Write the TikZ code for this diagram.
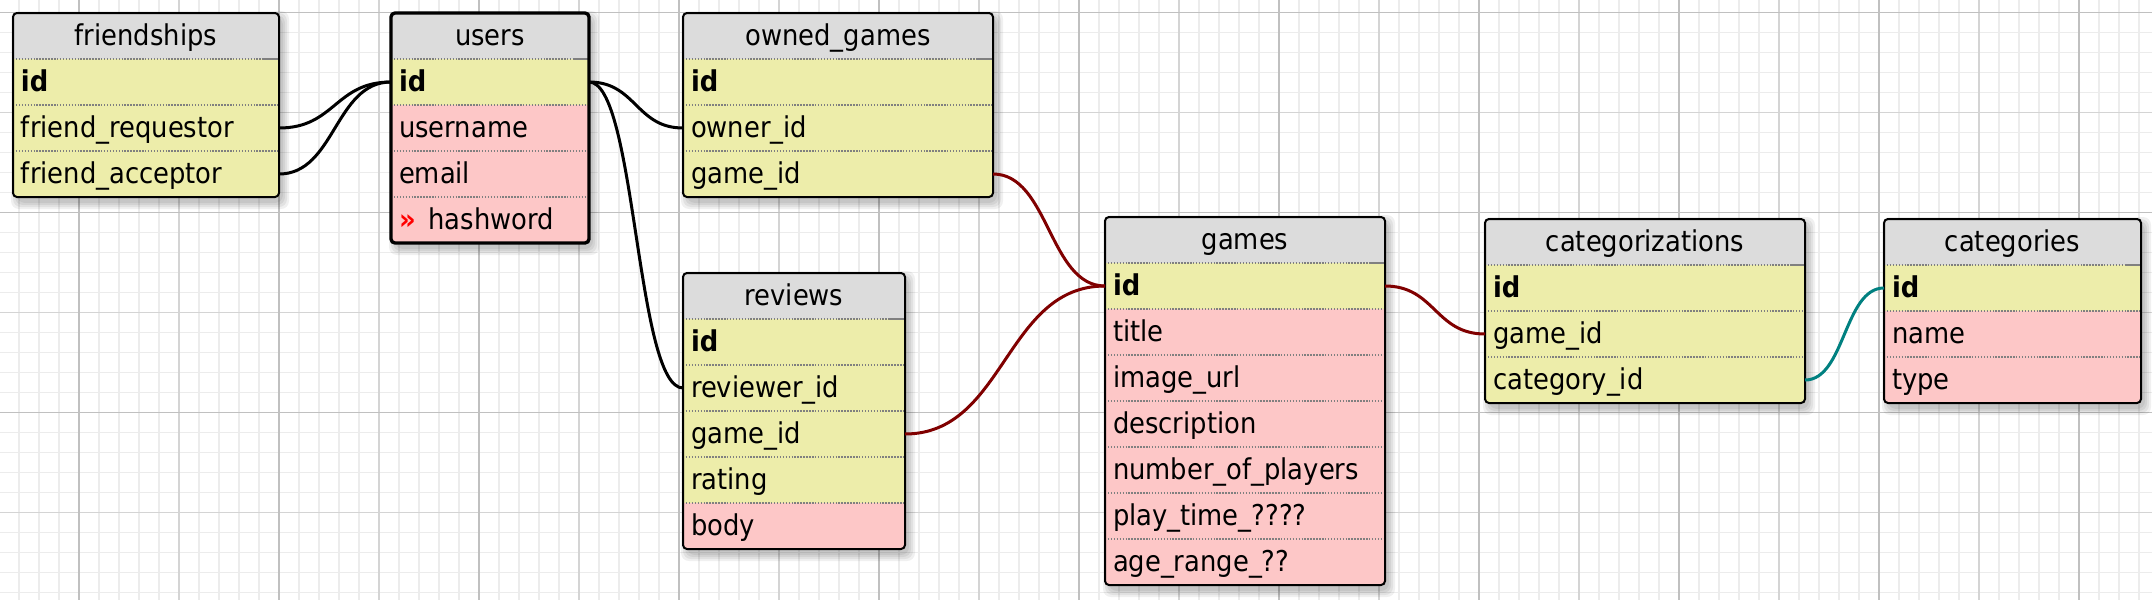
\documentclass[tikz,border=0pt]{standalone}
\usepackage{fontspec}
\setmainfont{DejaVu Sans}[FakeStretch=0.9]

\definecolor{hdrgray}{RGB}{220,220,220}
\definecolor{keyyellow}{RGB}{237,237,170}
\definecolor{fieldpink}{RGB}{253,199,199}
\definecolor{relred}{RGB}{128,0,0}
\definecolor{relteal}{RGB}{0,128,128}
\definecolor{gridminor}{RGB}{236,236,236}
\definecolor{gridmid}{RGB}{212,212,212}
\definecolor{gridmajor}{RGB}{192,192,192}

\pgfdeclarelayer{grid}
\pgfdeclarelayer{shadow}
\pgfsetlayers{grid,shadow,main}

\tikzset{every picture/.style={line width=0.75pt}}
\tikzset{
  tblrow/.style={anchor=north west, rectangle, inner xsep=6pt, inner ysep=0pt, outer sep=0pt,
    minimum height=34.5pt, text width=#1*0.75pt-12pt, text height=14.4pt, text depth=0pt,
    font=\fontsize{21.5}{26}\selectfont},
  tblhead/.style={tblrow=#1, fill=hdrgray, align=center},
  keyfield/.style={tblrow=#1, fill=keyyellow, align=left},
  plainfield/.style={tblrow=#1, fill=fieldpink, align=left},
  tblframe/.style={draw=black, line width=1.5pt, rounded corners=3pt},
  rowsep/.style={draw=gray, line width=1.1pt, dash pattern=on 1.1pt off 1.1pt},
  hdrtick/.style={draw=gray, line width=1.1pt},
  tblshadow/.style={fill=black, opacity=0.06, rounded corners=6pt},
  relation/.style={line width=2.25pt},
}

\begin{document}
\begin{tikzpicture}[x=0.75pt,y=0.75pt,yscale=-1,xscale=1]
\useasboundingbox (0,0) rectangle (2152,600);

%Grid
\begin{pgfonlayer}{grid}
\fill[white] (0,0) rectangle (2152,600);
\begin{scope}[shift={(79,12.7)}]
\draw[gridminor, line width=0.9pt, step=20] (-79,-12.7) grid (2073,587.3);
\draw[gridmid, line width=0.9pt, step=100] (-79,-12.7) grid (2073,587.3);
\draw[gridmajor, line width=1.1pt, step=200] (-79,-12.7) grid (2073,587.3);
\end{scope}
\end{pgfonlayer}

%Shape: Table [friendships]
\node[tblhead=266] (fsHead) at (13,13) {friendships};
\node[keyfield=266] (fsId) at (13,59) {\textbf{id}};
\node[keyfield=266] (fsReq) at (13,105) {friend\_requestor};
\node[keyfield=266] (fsAcc) at (13,151) {friend\_acceptor};

%Shape: Table [users]
\node[tblhead=198] (usHead) at (391,13) {users};
\node[keyfield=198] (usId) at (391,59) {\textbf{id}};
\node[plainfield=198] (usName) at (391,105) {username};
\node[plainfield=198] (usEmail) at (391,151) {email};
\node[plainfield=198] (usHash) at (391,197) {\textcolor{red}{\textbf{»}}\hspace{0.45em}hashword};

%Shape: Table [owned_games]
\node[tblhead=310] (ogHead) at (683,13) {owned\_games};
\node[keyfield=310] (ogId) at (683,59) {\textbf{id}};
\node[keyfield=310] (ogOwner) at (683,105) {owner\_id};
\node[keyfield=310] (ogGame) at (683,151) {game\_id};

%Shape: Table [reviews]
\node[tblhead=222] (rvHead) at (683,273) {reviews};
\node[keyfield=222] (rvId) at (683,319) {\textbf{id}};
\node[keyfield=222] (rvReviewer) at (683,365) {reviewer\_id};
\node[keyfield=222] (rvGame) at (683,411) {game\_id};
\node[keyfield=222] (rvRating) at (683,457) {rating};
\node[plainfield=222] (rvBody) at (683,503) {body};

%Shape: Table [games]
\node[tblhead=280] (gmHead) at (1105,217) {games};
\node[keyfield=280] (gmId) at (1105,263) {\textbf{id}};
\node[plainfield=280] (gmTitle) at (1105,309) {title};
\node[plainfield=280] (gmImage) at (1105,355) {image\_url};
\node[plainfield=280] (gmDesc) at (1105,401) {description};
\node[plainfield=280] (gmPlayers) at (1105,447) {number\_of\_players};
\node[plainfield=280] (gmTime) at (1105,493) {play\_time\_????};
\node[plainfield=280] (gmAge) at (1105,539) {age\_range\_??};

%Shape: Table [categorizations]
\node[tblhead=320] (ctzHead) at (1485,219) {categorizations};
\node[keyfield=320] (ctzId) at (1485,265) {\textbf{id}};
\node[keyfield=320] (ctzGame) at (1485,311) {game\_id};
\node[keyfield=320] (ctzCat) at (1485,357) {category\_id};

%Shape: Table [categories]
\node[tblhead=257] (catHead) at (1884,219) {categories};
\node[keyfield=257] (catId) at (1884,265) {\textbf{id}};
\node[plainfield=257] (catName) at (1884,311) {name};
\node[plainfield=257] (catType) at (1884,357) {type};

%Shadows
\begin{pgfonlayer}{shadow}
\foreach \tp/\bt in {fsHead/fsAcc,usHead/usHash,ogHead/ogGame,rvHead/rvBody,gmHead/gmAge,ctzHead/ctzCat,catHead/catType}
  \foreach \d in {0,2,4,6}
    \fill[tblshadow] ([shift={(4-\d,4-\d)}]\tp.north west) rectangle ([shift={(4+\d,6+\d)}]\bt.south east);
\end{pgfonlayer}

%Row separators
\foreach \r in {fsHead,fsId,fsReq,usHead,usId,usName,usEmail,ogHead,ogId,ogOwner,rvHead,rvId,rvReviewer,rvGame,rvRating,gmHead,gmId,gmTitle,gmImage,gmDesc,gmPlayers,gmTime,ctzHead,ctzId,ctzGame,catHead,catId,catName}
  \draw[rowsep] (\r.south west) -- (\r.south east);
\foreach \h in {fsHead,usHead,ogHead,rvHead,gmHead,ctzHead,catHead}
  \draw[hdrtick] ([xshift=-11pt]\h.south east) -- (\h.south east);

%Frames
\draw[tblframe] (fsHead.north west) rectangle (fsAcc.south east);
\draw[tblframe, line width=2.5pt] (usHead.north west) rectangle (usHash.south east);
\draw[tblframe] (ogHead.north west) rectangle (ogGame.south east);
\draw[tblframe] (rvHead.north west) rectangle (rvBody.south east);
\draw[tblframe] (gmHead.north west) rectangle (gmAge.south east);
\draw[tblframe] (ctzHead.north west) rectangle (ctzCat.south east);
\draw[tblframe] (catHead.north west) rectangle (catType.south east);

%Curve Lines
\draw[relation] (fsReq.east) .. controls +(56,0) and +(-56,0) .. (usId.west);
%Curve Lines
\draw[relation] (fsAcc.east) .. controls +(56,0) and +(-56,0) .. (usId.west);
%Curve Lines
\draw[relation] (usId.east) .. controls +(47,0) and +(-47,0) .. (ogOwner.west);
%Curve Lines
\draw[relation] (usId.east) .. controls +(47,0) and +(-47,0) .. (rvReviewer.west);
%Curve Lines
\draw[relation, relred] (ogGame.east) .. controls +(56,0) and +(-56,0) .. (gmId.west);
%Curve Lines
\draw[relation, relred] (rvGame.east) .. controls +(100,0) and +(-100,0) .. (gmId.west);
%Curve Lines
\draw[relation, relred] (gmId.east) .. controls +(50,0) and +(-50,0) .. (ctzGame.west);
%Curve Lines
\draw[relation, relteal] (ctzCat.east) .. controls +(40,0) and +(-40,0) .. (catId.west);

\end{tikzpicture}
\end{document}
